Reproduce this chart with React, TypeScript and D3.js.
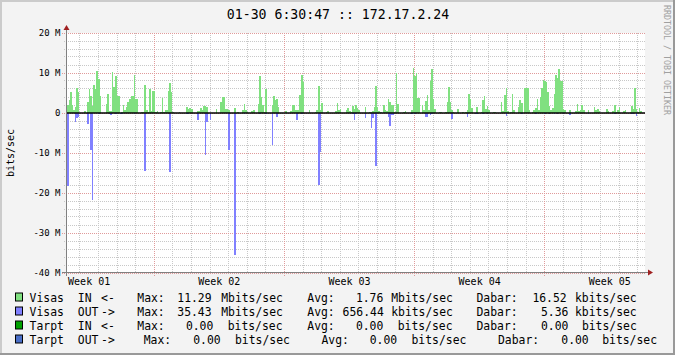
import React from 'react';
import * as d3 from 'd3';

// ---- data ----
const stepHours = 2;
const firstWeekStartHour = -55.4; // Monday 00:00 of "Week 01", relative to graph start
const weekLabels = ['Week 01', 'Week 02', 'Week 03', 'Week 04', 'Week 05'];

// Visas IN (Mbit/s), one value per 2-hour step
const inMbps = [
  2, 3.3, 5.3, 2, 0.8, 1.5, 6.3, 5.3, 0, 0,
  0, 0.5, 0, 2.8, 6, 4.3, 1.8, 7, 6, 10.6,
  8.6, 4.3, 0, 0, 0, 2.3, 4.8, 0.4, 0.6, 10.3,
  6.6, 9.3, 4.3, 4.3, 0, 0.3, 2, 0.8, 1.5, 2.8,
  3.6, 4.3, 4.3, 9.6, 3.6, 3.6, 0, 0, 0.3, 0.3,
  7, 0.8, 0.3, 6, 0.6, 5.6, 5.6, 0.3, 0.4, 0,
  0.3, 3.8, 0.3, 0.8, 0.8, 5.6, 7.6, 5.3, 0.3, 0,
  0, 0, 0.3, 0, 0, 0, 0, 1.6, 1.1, 1.3,
  1.1, 0, 0, 0, 0.6, 0.6, 1.3, 0.8, 1.8, 1.8,
  1.6, 0, 0, 0, 0, 0, 1.1, 0, 0, 2.8,
  4, 4, 1.1, 1.1, 0.8, 0, 0, 0, 1.3, 0,
  0.3, 0, 0, 0.8, 2.3, 0.8, 0.3, 0, 0, 0.6,
  0.8, 0, 0, 2.3, 9.3, 4, 2, 0.3, 6, 0,
  0, 0, 2, 4.3, 3.3, 3.6, 1.6, 0, 0, 0,
  0, 0.6, 0, 0, 0.6, 2, 2, 0.8, 0.8, 0.8,
  4.6, 9.6, 7.8, 0, 0, 0, 0.8, 0, 0, 0,
  0.3, 0.8, 6.8, 0.8, 2.6, 0, 0, 0.3, 0.6, 0,
  0, 0, 0, 0.6, 2.6, 0.8, 1.1, 0, 0, 0,
  0.8, 1.3, 0.6, 0.3, 1.8, 1.1, 2, 1.3, 0.8, 0,
  0, 0, 1.6, 0, 0, 0.3, 0.3, 0.6, 1.6, 6.8,
  1.6, 0.6, 0.3, 0, 2, 0.8, 0.6, 3.6, 2.8, 2,
  2, 0.3, 10, 2.3, 0, 0, 0, 0.3, 0.6, 0,
  0, 0, 0.8, 11.29, 9.3, 10, 3.8, 3.8, 0, 2,
  0.8, 3, 4.6, 0.8, 8, 11, 3.6, 1.1, 0, 0,
  0.3, 0.3, 0, 0, 0.3, 2.8, 6.6, 2.8, 0.8, 0.3,
  0, 0, 1.1, 0, 0, 0.3, 0, 0.3, 0.8, 4.8,
  3.6, 1.3, 0, 0, 1.6, 0, 0, 0.3, 3.3, 4.3,
  1.1, 1.8, 0.8, 0, 0, 0.3, 0.3, 0, 0, 0,
  2.8, 0.6, 4.6, 6.3, 0.6, 0, 0.3, 4.8, 0.8, 0,
  0, 1.6, 3.3, 2.6, 0, 6.3, 6.3, 6.3, 0.8, 0,
  0.3, 0.8, 1.3, 3.6, 0.8, 4, 6.3, 8.3, 8, 7.8,
  5.3, 1.8, 0.8, 1.3, 4.8, 9.6, 8.8, 11, 8, 8,
  1.1, 0.8, 0, 0, 0.8, 0, 0, 0, 0.6, 2.3,
  0.6, 0.8, 2, 0.8, 0, 0, 0.8, 0, 0, 0,
  1.6, 0.8, 1.1, 0.6, 0, 0, 0, 0, 1.1, 0.6,
  0, 0, 0.6, 2, 0.3, 0.8, 1.6, 0, 0, 0.6,
  0.8, 0, 0, 0.3, 1.8, 1.1, 6.3, 1.1, 0.3, 1.3,
  0.6, 0, 0,
];

// Visas OUT (Mbit/s, drawn below zero), one value per 2-hour step
const outMbps = [
  18.3, 0, 0, 0, 0, 2.3, 1.3, 1, 0, 0,
  0, 0, 0, 2.8, 0, 9.3, 21.7, 0, 0, 0,
  0.3, 0, 0, 0, 0, 0, 0, 0.3, 0.5, 0,
  0, 0.3, 0, 0, 0.3, 0.3, 0, 0, 0, 0,
  0, 0, 0, 0.3, 0, 0, 0, 0, 0, 0,
  14.6, 0, 0, 0, 0, 0, 0, 0, 0, 0,
  0, 0, 0, 0, 0, 0, 14.8, 0, 0, 0,
  0, 0, 0, 0, 0, 0, 0, 0.3, 0.3, 0,
  0, 0, 0, 0, 1.7, 0, 0, 0, 0, 10.6,
  2.3, 0, 1.8, 0, 0, 0, 0, 0, 0, 0,
  0, 0, 0, 0, 9.3, 0, 0, 0, 35.43, 0,
  0, 0, 0, 0, 0.3, 0, 0, 0, 0, 0,
  0, 0, 0, 0, 0.3, 0, 0, 0, 0.3, 0,
  0, 0, 7.9, 0, 0, 1.1, 0, 0, 0, 0,
  0, 0, 0, 0, 0, 0, 0, 0, 1.8, 0,
  0, 0.3, 0, 0, 0, 0, 0, 0, 0, 0,
  0, 0, 17.9, 9.8, 0, 0, 0, 0, 0, 0,
  0, 0, 0, 0, 0, 0, 0, 0, 0, 0,
  0, 0, 0, 0, 0.3, 1.8, 0.3, 0, 0, 0,
  0, 0, 1.3, 0, 0, 0, 3.8, 1.3, 0, 13.3,
  0, 0, 0, 0, 0, 0, 0, 1.1, 3.3, 0.6,
  0.6, 0, 0, 0, 0, 0, 0, 0, 0, 0,
  0, 0, 0.3, 0, 0.3, 0, 0, 0, 0, 0,
  0, 1.1, 1.1, 0, 0.6, 0.3, 0, 0, 0, 0,
  0, 0, 0, 0, 0, 0, 0, 0, 1.6, 0,
  0, 0, 0, 0, 0, 0, 0, 0, 1.1, 0,
  0, 0, 0, 0.3, 0.3, 0, 0, 0, 0.3, 0,
  0, 0.3, 0, 0, 0, 0, 0, 0, 0, 0,
  0, 0, 0, 0.8, 0, 0, 0, 0, 0, 0,
  0, 0, 0, 0.3, 0, 0, 0, 0, 0, 0,
  0, 0, 0.3, 0, 0, 0, 0, 0, 0.3, 0,
  0, 0.3, 0, 0, 0.3, 0, 0.3, 0, 0, 0,
  0.3, 0, 0, 0, 0.6, 0, 0, 0, 0, 0,
  0, 0, 0, 0, 0, 0, 0.3, 0, 0, 0,
  0, 0, 0, 0, 0, 0, 0, 0, 0, 0,
  0, 0, 0, 0.3, 0, 0, 0, 0, 0, 0,
  0, 0, 0, 0, 0.3, 0.3, 0, 0.8, 0, 0,
  0, 0, 0,
];

const yTicks = [20, 10, 0, -10, -20, -30, -40];
const yTickLabels = ['20 M', '10 M', '0', '-10 M', '-20 M', '-30 M', '-40 M'];
const yMinorStep = 2;

const title = '01-30 6:30:47 :: 172.17.2.24';
const yAxisTitle = 'bits/sec';
const watermark = 'RRDTOOL / TOBI OETIKER';

const legendNames = ['Visas', 'Visas', 'Tarpt', 'Tarpt'];
const legendDirs = ['IN', 'OUT', 'IN', 'OUT'];
const legendArrows = ['<-', '->', '<-', '->'];
const maxValues = ['11.29', '35.43', '0.00', '0.00'];
const maxUnits = ['Mbits/sec', 'Mbits/sec', 'bits/sec', 'bits/sec'];
const avgValues = ['1.76', '656.44', '0.00', '0.00'];
const avgUnits = ['Mbits/sec', 'kbits/sec', 'bits/sec', 'bits/sec'];
const dabarValues = ['16.52', '5.36', '0.00', '0.00'];
const dabarUnits = ['kbits/sec', 'kbits/sec', 'bits/sec', 'bits/sec'];

// ---- layout / style ----
const W = 675;
const H = 355;
const FONT = '"DejaVu Sans Mono", monospace';
const legendColors = ['#80e080', '#8080ff', '#00a000', '#4a6fc8'];
// per-row start x of: Max:, maxVal, maxUnit, Avg:, avgVal, avgUnit, Dabar:, dabVal, dabUnit
const legendCols = [
  [137.3, 177.3, 221.2, 307.3, 355.9, 391.2, 476.5, 532.4, 575],
  [137.3, 177.3, 221.2, 307.3, 342.6, 391.2, 476.5, 541, 575],
  [137.3, 185.9, 227.7, 307.3, 355.9, 397.7, 476.5, 541, 581.9],
  [143.7, 193.2, 235, 321.5, 369.7, 411.5, 498, 561.3, 602.2],
];

export default function App() {
  const x = d3.scaleLinear().domain([0, inMbps.length * stepHours]).range([67, 645]);
  const y = d3.scaleLinear().domain([-40, 20]).range([273, 33]);
  const [x0, x1] = x.range();
  const y0 = y(0);

  // grid
  const dayLines: number[] = [];
  const weekLines: number[] = [];
  const [h0, h1] = x.domain();
  for (let h = firstWeekStartHour; h <= h1; h += 24) {
    if (h < h0) continue;
    const isWeek = Math.abs(((h - firstWeekStartHour) % 168)) < 1e-6;
    (isWeek ? weekLines : dayLines).push(Math.floor(x(h)) + 0.5);
  }
  const minorY = d3.range(-40, 20 + 1e-9, yMinorStep).filter((v) => v % 10 !== 0).map((v) => Math.floor(y(v)) + 0.5);
  const majorY = yTicks.map((v) => Math.floor(y(v)) + 0.5);

  const bars = (vals: number[], sign: number, color: string, key: string) =>
    vals.map((v, i) => {
      if (!v) return null;
      const a = Math.round(x(i * stepHours));
      const b = Math.round(x((i + 1) * stepHours));
      const yv = y(sign * v);
      const top = Math.min(yv, y0);
      const hgt = Math.max(Math.abs(yv - y0), 1);
      return <rect key={key + i} x={a} y={top} width={Math.max(b - a, 1)} height={hgt} fill={color} />;
    });

  const weekLabelXs = weekLabels.map((_, k) => x(firstWeekStartHour + 84 + 168 * k));

  return (
    <svg width={W} height={H} style={{ position: 'fixed', left: 0, top: 0, display: 'block' }} fontFamily={FONT}>
      {/* background + 3D frame */}
      <rect x={0} y={0} width={W} height={H} fill="#f3f3f3" />
      <rect x={0} y={0} width={W} height={2} fill="#cbcbcb" />
      <rect x={0} y={0} width={2} height={H} fill="#cbcbcb" />
      <rect x={0} y={H - 2} width={W} height={2} fill="#999999" />
      <rect x={W - 2} y={0} width={2} height={H} fill="#999999" />

      {/* plot canvas */}
      <rect x={x0} y={33} width={x1 - x0} height={240} fill="#ffffff" />

      {/* minor grid */}
      <g stroke="#c8c8c8" strokeWidth={1} strokeDasharray="1,1" shapeRendering="crispEdges">
        {dayLines.map((xx, i) => <line key={'dv' + i} x1={xx} x2={xx} y1={33} y2={273} />)}
        {minorY.map((yy, i) => <line key={'mh' + i} x1={64} x2={x1} y1={yy} y2={yy} />)}
      </g>
      {/* major grid */}
      <g stroke="#e09a9a" strokeWidth={1} strokeDasharray="1,1" shapeRendering="crispEdges">
        {weekLines.map((xx, i) => <line key={'wv' + i} x1={xx} x2={xx} y1={33} y2={276} />)}
        {majorY.map((yy, i) => <line key={'Mh' + i} x1={62} x2={x1} y1={yy} y2={yy} />)}
      </g>

      {/* data */}
      <g shapeRendering="crispEdges">
        {bars(inMbps, 1, '#80e080', 'in')}
        {bars(outMbps, -1, '#8080ff', 'out')}
      </g>
      {/* zero line */}
      <line x1={x0} x2={x1} y1={y0} y2={y0} stroke="#000" strokeWidth={1.5} />

      {/* axes */}
      <g stroke="#808080" strokeWidth={1} shapeRendering="crispEdges">
        <line x1={66.5} x2={66.5} y1={276} y2={28} />
        <line x1={62} x2={649} y1={272.5} y2={272.5} />
      </g>
      <path d="M63.5,30 L66.5,25 L69.5,30 Z" fill="#a02020" />
      <path d="M648,269.5 L653,272.5 L648,275.5 Z" fill="#a02020" />

      {/* y tick labels */}
      <g fontSize={9} fill="#000" textAnchor="end">
        {yTicks.map((v, i) => (
          <text key={'yl' + i} x={60.5} y={y(v) + 3.2}>{yTickLabels[i]}</text>
        ))}
      </g>
      {/* x labels */}
      <g fontSize={10} fill="#000" textAnchor="middle">
        {weekLabels.map((t, i) => (
          <text key={'xl' + i} x={weekLabelXs[i]} y={285}>{t}</text>
        ))}
      </g>

      {/* title */}
      <text x={338} y={18.5} fontSize={13.2} textAnchor="middle" fill="#000">{title}</text>
      {/* y axis title */}
      <text transform="translate(13.5,153) rotate(-90)" fontSize={10} textAnchor="middle" fill="#000">{yAxisTitle}</text>
      {/* watermark */}
      <text transform="translate(663.5,5) rotate(90)" fontSize={8.3} fill="#a0a0a0">{watermark}</text>

      {/* legend */}
      <g fontSize={11.4} fill="#000">
        {legendNames.map((nm, r) => {
          const by = 301.5 + r * 14;
          const c = legendCols[r];
          return (
            <g key={'lg' + r}>
              <rect x={15.5} y={by - 8.5} width={7} height={8} fill={legendColors[r]} stroke="#000" strokeWidth={1} />
              <text x={29.6} y={by}>{nm}</text>
              <text x={77.8} y={by}>{legendDirs[r]}</text>
              <text x={101.1} y={by}>{legendArrows[r]}</text>
              <text x={c[0]} y={by}>Max:</text>
              <text x={c[1]} y={by}>{maxValues[r]}</text>
              <text x={c[2]} y={by}>{maxUnits[r]}</text>
              <text x={c[3]} y={by}>Avg:</text>
              <text x={c[4]} y={by}>{avgValues[r]}</text>
              <text x={c[5]} y={by}>{avgUnits[r]}</text>
              <text x={c[6]} y={by}>Dabar:</text>
              <text x={c[7]} y={by}>{dabarValues[r]}</text>
              <text x={c[8]} y={by}>{dabarUnits[r]}</text>
            </g>
          );
        })}
      </g>
    </svg>
  );
}
